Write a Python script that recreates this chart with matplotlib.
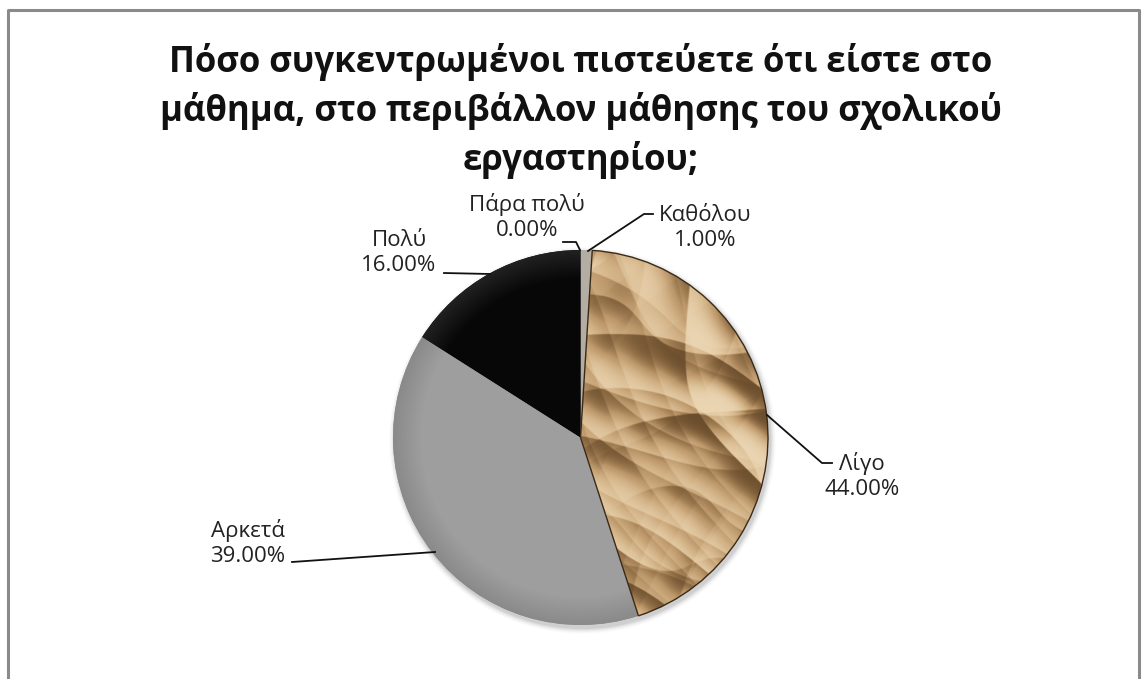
import numpy as np
import matplotlib
matplotlib.use("Agg")
import matplotlib.pyplot as plt
from matplotlib.colors import LinearSegmentedColormap

# answers, clockwise from 12 o'clock
labels = ["Καθόλου", "Λίγο", "Αρκετά", "Πολύ", "Πάρα πολύ"]
shares = [1.0, 44.0, 39.0, 16.0, 0.0]
title = ("Πόσο συγκεντρωμένοι πιστεύετε ότι είστε στο\n"
         "μάθημα, στο περιβάλλον μάθησης του σχολικού\n"
         "εργαστηρίου;")

W, H = 1144, 679
plt.rcParams['font.family'] = ['Open Sans', 'DejaVu Sans']

fig = plt.figure(figsize=(W / 100, H / 100), dpi=100)
ax = fig.add_axes([0, 0, 1, 1])

cx, cy, r = 580.5, H - 437.5, 187.5

# soft shadow under the pie
for i, a in enumerate(np.linspace(0.05, 0.01, 6)):
    ax.add_patch(plt.Circle((cx + 2, cy - 3), r + 1 + i, color='k', alpha=a, lw=0, zorder=0))

wedges, _ = ax.pie(shares, startangle=90, counterclock=False, center=(cx, cy),
                   radius=r, colors=['#b3ada4', 'none', '#9c9c9c', '#070707', '#000000'],
                   wedgeprops=dict(linewidth=0), frame=True)
ax.set_xlim(0, W)
ax.set_ylim(0, H)
ax.axis('off')

ext = [cx - r, cx + r, cy - r, cy + r]
n = 600
xx, yy = np.meshgrid(np.linspace(0, 1, n), np.linspace(0, 1, n))

# crumpled paper fill for "Λίγο": crease height field + hill shading
hgt = np.zeros_like(xx)
creases = [(0.35, 9, 0.0, 1.0), (1.25, 13, 1.1, 0.8), (2.05, 11, 2.3, 0.9),
           (2.75, 17, 0.7, 0.6), (0.85, 21, 1.9, 0.5), (1.65, 15, 0.4, 0.6),
           (2.45, 27, 2.8, 0.35), (0.55, 33, 1.5, 0.3)]
for ang, freq, ph, w in creases:
    u = xx * np.cos(ang) + yy * np.sin(ang)
    v = -xx * np.sin(ang) + yy * np.cos(ang)
    warp = 1.6 * np.sin(5.3 * v + ph) + 0.8 * np.sin(11.7 * u + 2 * ph)
    hgt -= w * np.abs(np.sin(freq * u + warp + ph)) / freq
gy, gx = np.gradient(hgt)
shade = -(gx * 0.7 + gy * 0.7) * n
shade = np.tanh(shade * 0.55) * 0.45 + 0.5
paper = LinearSegmentedColormap.from_list(
    'paper', ['#5a3f22', '#8f6d45', '#bb976a', '#cfae82', '#dfc49c', '#efdcbc'])
im = ax.imshow(shade, extent=ext, cmap=paper, origin='lower', zorder=1,
               interpolation='bilinear', vmin=0, vmax=1)
im.set_clip_path(wedges[1])
wedges[1].set_edgecolor('#3a2a18')
wedges[1].set_linewidth(1.0)
wedges[1].set_zorder(2)

# darker rim on the grey and black slices
rr = np.hypot(xx - 0.5, yy - 0.5) * 2
rim = np.clip((rr - 0.85) / 0.15, 0, 1)
grey = np.dstack([np.full_like(rr, 0.62) - 0.08 * rim] * 3)
im2 = ax.imshow(grey, extent=ext, origin='lower', zorder=1, interpolation='bilinear')
im2.set_clip_path(wedges[2])
dark = np.dstack([0.03 + 0.10 * rim * (yy > 0.6)] * 3)
im3 = ax.imshow(dark, extent=ext, origin='lower', zorder=1, interpolation='bilinear')
im3.set_clip_path(wedges[3])

ax.text(cx, H - 111, title, ha='center', va='center', fontsize=25,
        fontweight='bold', linespacing=1.37, color='#111111')

# data labels with leader lines (image coords, y measured from top)
lab_pos = {
    "Καθόλου": (705, 228, [(588, 251), (644, 214), (653, 214)]),
    "Λίγο": (862, 476, [(767, 415), (822, 463), (832, 463)]),
    "Αρκετά": (248, 543, [(435, 552), (292, 562)]),
    "Πολύ": (399, 253, [(490, 274), (444, 273)]),
    "Πάρα πολύ": (527, 217, [(580, 250), (576, 242), (563, 242)]),
}
for name, val in zip(labels, shares):
    tx, ty, pts = lab_pos[name]
    ax.text(tx, H - ty, f"{name}\n{val:.2f}%", ha='center', va='center',
            fontsize=16, linespacing=1.3, color='#222222')
    px = [p[0] for p in pts]
    py = [H - p[1] for p in pts]
    ax.plot(px, py, color='#111111', lw=1.3, zorder=3)

# chart frame (bottom edge falls outside)
ax.plot([8, 8, 1139, 1139], [0, H - 10, H - 10, 0], color='#8a8a8a', lw=2.2)

fig.savefig("out.png", dpi=100)
